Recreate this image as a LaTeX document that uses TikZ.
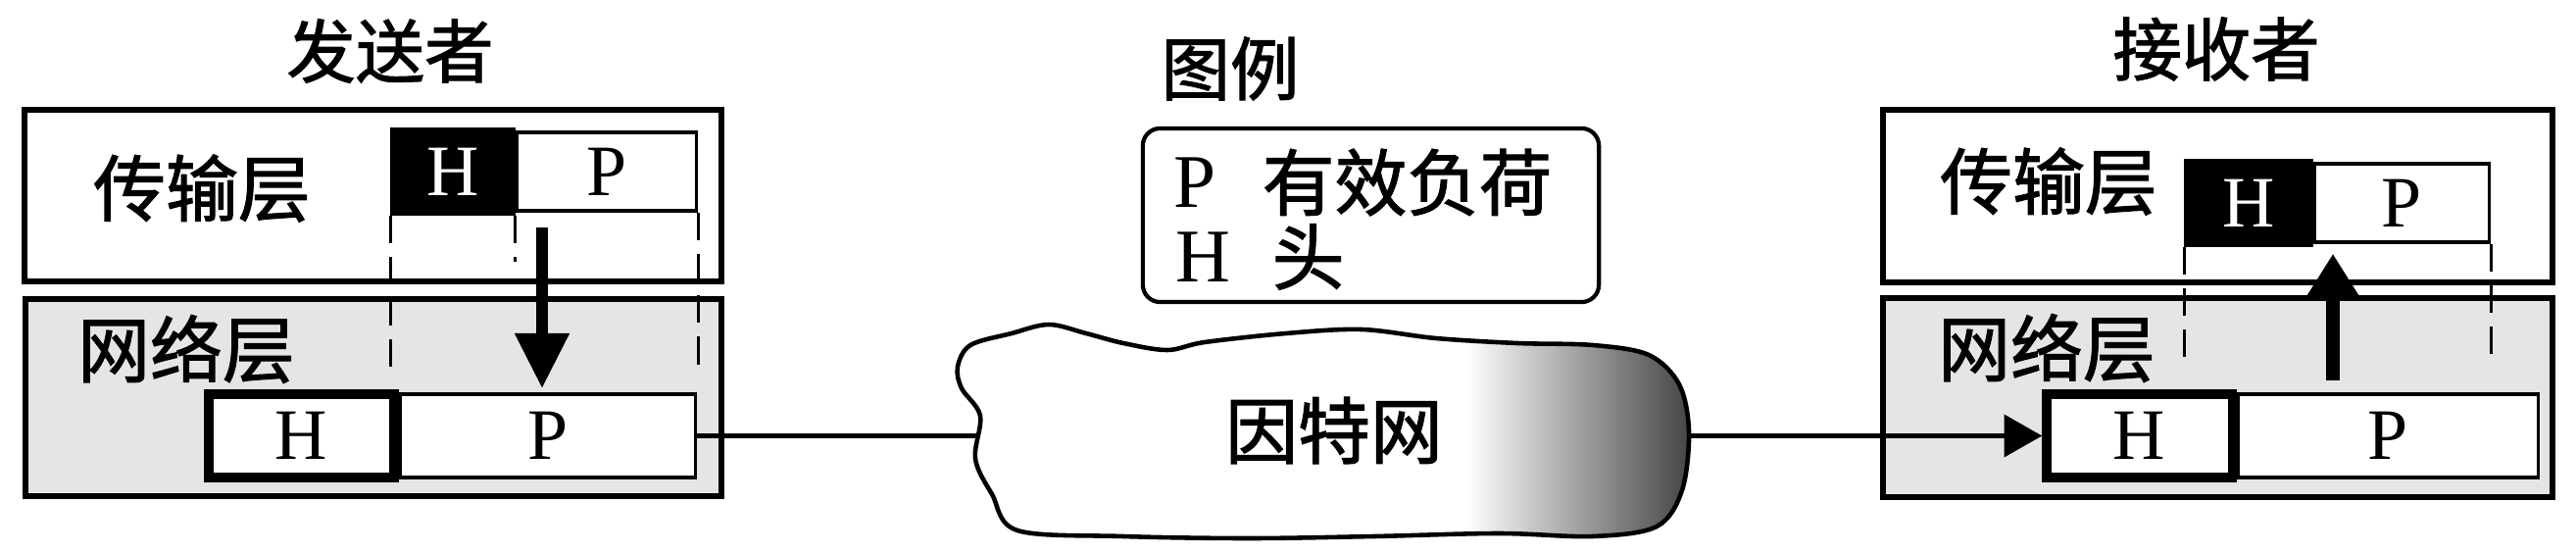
\documentclass[tikz,border=0pt]{standalone}
\usepackage{fontspec}
\setmainfont{Liberation Serif}
\newfontfamily\cjk{Noto Sans CJK SC}[FakeBold=1.6]
\usetikzlibrary{arrows.meta,calc}
\begin{document}
\begin{tikzpicture}[x=0.01cm,y=-0.01cm,
  layer/.style={draw=black, line width=1.7pt, inner sep=0pt},
  translayer/.style={layer, fill=white},
  netlayer/.style={layer, fill=black!10},
  hbox/.style={draw=black, line width=2.6pt, inner sep=0pt, font=\fontsize{21}{21}\selectfont},
  hdark/.style={hbox, fill=black, text=white},
  hlight/.style={hbox, fill=white, text=black},
  pbox/.style={draw=black, line width=1pt, fill=white, inner sep=0pt, font=\fontsize{21}{21}\selectfont},
  cjklabel/.style={font=\cjk\fontsize{21}{21}\selectfont, inner sep=0pt},
  titlelabel/.style={font=\cjk\fontsize{20}{20}\selectfont, inner sep=0pt},
  legletter/.style={font=\fontsize{22}{22}\selectfont, inner sep=0pt, anchor=west},
  guide/.style={line width=0.8pt, dash pattern=on 8pt off 4pt},
  downarrow/.style={line width=3.4pt, -{Triangle[length=16pt,width=15pt]}},
  uparrow/.style={line width=4pt, -{Triangle[length=12pt,width=14pt]}},
  link/.style={line width=1.7pt},
  inarrow/.style={line width=1.7pt, -{Triangle[length=11pt,width=12pt]}},
  cloudline/.style={draw=black, line width=1.3pt},
]
\path[use as bounding box] (0,0) rectangle (2628,564);

% ---------------- Sender ----------------
\node[titlelabel] (stitle) at (398,52) {发送者};
\node[translayer, minimum width=7.11cm, minimum height=1.75cm] (stl) at (380.5,199.5) {};
\node[netlayer, minimum width=7.10cm, minimum height=2.01cm] (snl) at (381,405.5) {};
\node[cjklabel] (stlab) at (206,192) {传输层};
\node[cjklabel] (snlab) at (190,356) {网络层};

\node[hdark, minimum width=1.18cm, minimum height=0.8cm] (stH) at (462,175) {H};
\node[pbox, anchor=west, minimum width=1.83cm, minimum height=0.8cm] (stP) at (stH.east) {P};
\node[hlight, minimum width=1.89cm, minimum height=0.85cm] (snH) at (307.5,444.5) {H};
\node[pbox, anchor=west, minimum width=3.01cm, minimum height=0.85cm] (snP) at (snH.east) {P};

\draw[guide] (stH.south west) -- ++(0,156);
\draw[guide] (stH.south east) -- ++(0,47);
\draw[guide] (stP.south east) -- ++(0,156);

\coordinate (sax) at (553,0);
\draw[downarrow] ($(sax |- stP.south)+(0,15)$) -- ($(sax |- snP.north)+(0,-4)$);

% ---------------- Legend ----------------
\node[titlelabel] (lgtitle) at (1255,70) {图例};
\node[draw=black, line width=1.2pt, rounded corners=5pt, minimum width=4.65cm, minimum height=1.77cm] (legend) at (1398.5,219.5) {};
\node[legletter] (lgP) at (1197,186) {P};
\node[cjklabel, anchor=west] (lgPt) at (1287,186) {有效负荷};
\node[legletter] (lgH) at (1199,262) {H};
\node[cjklabel, anchor=west] (lgHt) at (1297,262) {头};

% ---------------- Internet cloud ----------------
\def\cloudpath{plot[smooth cycle, tension=0.55] coordinates {
 (977,374) (990,352) (1032,340) (1070,331) (1108,340) (1146,350) (1191,357)
 (1229,349) (1312,340) (1389,336) (1465,345) (1548,350) (1625,352) (1682,362)
 (1713,392) (1723,440) (1716,500) (1690,537) (1625,547) (1529,544) (1402,547)
 (1274,549) (1146,547) (1038,541) (1012,504) (995,468) (1000,424) (981,396)}}
\fill[white] \cloudpath;
\begin{scope}
  \clip \cloudpath;
  \shade[left color=white, right color=black!75] (1495,320) rectangle (1730,560);
\end{scope}
\draw[cloudline] \cloudpath;
\node[cjklabel, minimum width=7.22cm, minimum height=2cm] (cloud) at (1361,439) {因特网};

% ---------------- Receiver ----------------
\node[titlelabel] (rtitle) at (2261,50) {接收者};
\node[translayer, minimum width=6.83cm, minimum height=1.76cm] (rtl) at (2262.5,200) {};
\node[netlayer, minimum width=6.83cm, minimum height=2.03cm] (rnl) at (2262.5,405.5) {};
\node[cjklabel] (rtlab) at (2090,185) {传输层};
\node[cjklabel] (rnlab) at (2088,355) {网络层};

\node[hdark, minimum width=1.22cm, minimum height=0.8cm] (rtH) at (2294,207) {H};
\node[pbox, anchor=west, minimum width=1.78cm, minimum height=0.8cm] (rtP) at (rtH.east) {P};
\node[hlight, minimum width=1.89cm, minimum height=0.85cm] (rnH) at (2182.5,444.5) {H};
\node[pbox, anchor=west, minimum width=3.06cm, minimum height=0.85cm] (rnP) at (rnH.east) {P};

\draw[guide] (rtH.south west) -- ++(0,123);
\draw[guide] (rtP.south east) -- ++(0,123);

\coordinate (rax) at (2380,0);
\draw[uparrow] ($(rax |- rnP.north)+(0,-12)$) -- ($(rax |- rtP.south)+(0,10)$);

% ---------------- Connectors ----------------
\draw[link] (snP.east) -- (snP.east -| cloud.west);
\draw[inarrow] (cloud.east |- rnH.west) -- (rnH.west);
\end{tikzpicture}
\end{document}
